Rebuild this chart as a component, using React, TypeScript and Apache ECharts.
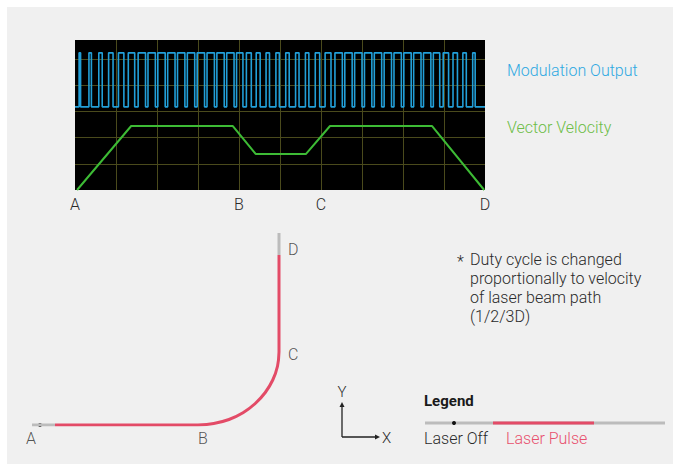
import React, { useEffect, useRef } from "react";
import * as echarts from "echarts";

// ---- Oscilloscope (upper chart) ----
const scopeMarks = ["A", "B", "C", "D"];
const scopeMarkPos = [0, 4, 6, 10];
const velocityX = [0.05, 1.37, 3.85, 4.41, 5.63, 6.22, 8.71, 9.98];
const velocityY = [0, 2.44, 2.44, 1.37, 1.37, 2.44, 2.44, 0];
const waveLow = 3.17;
const waveHigh = 5.23;
const pulsePeriod = 0.24;
const pulseStart = [
  0.1, 0.34, 0.58, 0.82, 1.06, 1.3, 1.54, 1.78, 2.02, 2.26, 2.5, 2.74, 2.98, 3.22,
  3.46, 3.7, 3.94, 4.18, 4.42, 4.66, 4.9, 5.14, 5.38, 5.62, 5.86, 6.1, 6.34, 6.58,
  6.82, 7.06, 7.3, 7.54, 7.78, 8.02, 8.26, 8.5, 8.74, 8.98, 9.22, 9.46, 9.7,
];
const pulseDuty = [
  0.15, 0.25, 0.35, 0.45, 0.55, 0.65, 0.75, 0.75, 0.75, 0.75, 0.75, 0.75, 0.75, 0.75,
  0.75, 0.75, 0.65, 0.5, 0.4, 0.35, 0.35, 0.35, 0.35, 0.35, 0.45, 0.6, 0.75, 0.75,
  0.75, 0.75, 0.75, 0.75, 0.75, 0.75, 0.75, 0.75, 0.65, 0.55, 0.45, 0.35, 0.25,
];

// ---- Beam path (lower chart), units of path coordinate space ----
const pathOffLead = [[0.08, 0], [1.0, 0]];
const pathOffDot = [[0.4, 0]];
const pathPulseStraight = [[1.0, 0], [6.72, 0]];
const pathArc = [
  [6.72, 0], [7.35, 0.06], [7.96, 0.22], [8.52, 0.49], [9.01, 0.86],
  [9.41, 1.3], [9.71, 1.8], [9.9, 2.35], [9.96, 2.92],
];
const pathVertical = [[9.96, 2.92], [9.96, 6.8]];
const pathOffTail = [[9.96, 6.8], [9.96, 7.68]];
const pathLabels = [
  { name: "A", value: [0.04, 0], position: "bottom", distance: 5 },
  { name: "B", value: [6.92, 0], position: "bottom", distance: 5 },
  { name: "C", value: [9.96, 2.82], position: "right", distance: 9 },
  { name: "D", value: [9.96, 7.02], position: "right", distance: 9 },
];

const noteLines = [
  "Duty cycle is changed",
  "proportionally to velocity",
  "of laser beam path",
  "(1/2/3D)",
];

const FONT = "Roboto, 'Noto Sans', sans-serif";
const TEXT = "#2a2a2a";
const RED = "#e34b67";
const GRAY = "#bcbcbc";
const FS = 16;

export default function App() {
  const ref = useRef<HTMLDivElement>(null);

  useEffect(() => {
    if (!ref.current) return;
    const chart = echarts.init(ref.current, null, { renderer: "svg" });

    const wave: number[][] = [[0, waveLow]];
    pulseStart.forEach((s, i) => {
      const e = s + pulseDuty[i] * pulsePeriod;
      wave.push([s, waveLow], [s, waveHigh], [e, waveHigh], [e, waveLow]);
    });
    wave.push([10, waveLow]);

    const velocity = velocityX.map((x, i) => [x, velocityY[i]]);

    const lineBase = (data: number[][], color: string, width: number, extra: any = {}) => ({
      type: "line",
      xAxisIndex: 1,
      yAxisIndex: 1,
      data,
      showSymbol: false,
      silent: true,
      lineStyle: { color, width, cap: "butt" },
      ...extra,
    });

    const noteTexts = noteLines.map((t, i) => ({
      type: "text",
      x: 470,
      y: 259 + i * 19,
      style: { text: t, fill: TEXT, font: `300 ${FS}px ${FONT}`, verticalAlign: "middle" },
    }));

    const option: any = {
      animation: false,
      grid: [
        { left: 75, top: 40, width: 410, height: 150, show: true, backgroundColor: "#000", borderWidth: 0 },
        { left: 30, top: 225, width: 250, height: 200, show: false },
      ],
      xAxis: [
        {
          gridIndex: 0,
          type: "value",
          min: 0,
          max: 10,
          interval: 1,
          axisLine: { show: false },
          axisTick: { show: false },
          splitLine: { show: true, showMinLine: false, showMaxLine: false, lineStyle: { color: "#4a4a1c", width: 1 } },
          axisLabel: {
            color: TEXT,
            fontSize: FS,
            fontWeight: 300,
            fontFamily: FONT,
            margin: 6,
            showMinLabel: true,
            showMaxLabel: true,
            formatter: (v: number) => {
              const i = scopeMarkPos.indexOf(v);
              return i >= 0 ? scopeMarks[i] : "";
            },
          },
        },
        { gridIndex: 1, type: "value", min: 0, max: 10, show: false },
      ],
      yAxis: [
        {
          gridIndex: 0,
          type: "value",
          min: 0,
          max: 5.72,
          interval: 1,
          axisLine: { show: false },
          axisTick: { show: false },
          axisLabel: { show: false },
          splitLine: { show: true, showMinLine: false, showMaxLine: false, lineStyle: { color: "#4a4a1c", width: 1 } },
        },
        { gridIndex: 1, type: "value", min: 0, max: 8, show: false },
      ],
      series: [
        {
          type: "line",
          name: "Modulation Output",
          xAxisIndex: 0,
          yAxisIndex: 0,
          data: wave,
          showSymbol: false,
          silent: true,
          lineStyle: { color: "#229fd8", width: 1.6 },
        },
        {
          type: "line",
          name: "Vector Velocity",
          xAxisIndex: 0,
          yAxisIndex: 0,
          data: velocity,
          showSymbol: false,
          silent: true,
          lineStyle: { color: "#3dbb35", width: 2 },
        },
        lineBase(pathOffLead, GRAY, 3),
        lineBase(pathOffTail, GRAY, 3),
        lineBase(pathPulseStraight, RED, 3),
        lineBase(pathArc, RED, 3, { smooth: 0.4 }),
        lineBase(pathVertical, RED, 3),
        {
          type: "scatter",
          xAxisIndex: 1,
          yAxisIndex: 1,
          data: pathOffDot,
          symbolSize: 4,
          itemStyle: { color: "#111" },
          silent: true,
        },
        {
          type: "scatter",
          xAxisIndex: 1,
          yAxisIndex: 1,
          symbolSize: 0,
          silent: true,
          data: pathLabels.map((p) => ({
            name: p.name,
            value: p.value,
            label: {
              show: true,
              formatter: p.name,
              position: p.position,
              distance: p.distance,
              color: TEXT,
              fontSize: FS,
              fontWeight: 300,
              fontFamily: FONT,
            },
          })),
        },
      ],
      graphic: [
        { type: "text", x: 507, y: 70, style: { text: "Modulation Output", fill: "#2fa9e2", font: `300 ${FS}px ${FONT}`, verticalAlign: "middle" } },
        { type: "text", x: 507, y: 127, style: { text: "Vector Velocity", fill: "#6dbd47", font: `300 ${FS}px ${FONT}`, verticalAlign: "middle" } },
        { type: "text", x: 457, y: 261, style: { text: "*", fill: TEXT, font: `300 ${FS}px ${FONT}`, verticalAlign: "middle" } },
        ...noteTexts,
        // axes icon
        { type: "line", shape: { x1: 342, y1: 437, x2: 342, y2: 405 }, style: { stroke: "#222", lineWidth: 1.3 } },
        { type: "polygon", shape: { points: [[339.5, 407], [342, 402], [344.5, 407]] }, style: { fill: "#222" } },
        { type: "line", shape: { x1: 342, y1: 437, x2: 377, y2: 437 }, style: { stroke: "#222", lineWidth: 1.3 } },
        { type: "polygon", shape: { points: [[375, 434.5], [380, 437], [375, 439.5]] }, style: { fill: "#222" } },
        { type: "text", x: 342, y: 392, style: { text: "Y", fill: TEXT, font: `300 15px ${FONT}`, align: "center", verticalAlign: "middle" } },
        { type: "text", x: 382, y: 438, style: { text: "X", fill: TEXT, font: `300 15px ${FONT}`, align: "left", verticalAlign: "middle" } },
        // legend
        { type: "text", x: 424, y: 401, style: { text: "Legend", fill: "#1a1a1a", font: `bold 15px ${FONT}`, verticalAlign: "middle" } },
        { type: "line", shape: { x1: 425, y1: 423, x2: 665, y2: 423 }, style: { stroke: GRAY, lineWidth: 3 } },
        { type: "line", shape: { x1: 493, y1: 423, x2: 594, y2: 423 }, style: { stroke: RED, lineWidth: 3 } },
        { type: "circle", shape: { cx: 454, cy: 423, r: 2 }, style: { fill: "#111" } },
        { type: "text", x: 424, y: 438, style: { text: "Laser Off", fill: TEXT, font: `300 ${FS}px ${FONT}`, verticalAlign: "middle" } },
        { type: "text", x: 506, y: 438, style: { text: "Laser Pulse", fill: "#e8506e", font: `300 ${FS}px ${FONT}`, verticalAlign: "middle" } },
      ],
    };

    chart.setOption(option);
    return () => chart.dispose();
  }, []);

  return (
    <div style={{ position: "fixed", left: 0, top: 0, width: 673, height: 464, background: "#fff" }}>
      <div style={{ position: "absolute", left: 7, top: 7, width: 666, height: 457, background: "#f0f0f0" }} />
      <div ref={ref} style={{ position: "absolute", left: 0, top: 0, width: 673, height: 464 }} />
    </div>
  );
}
